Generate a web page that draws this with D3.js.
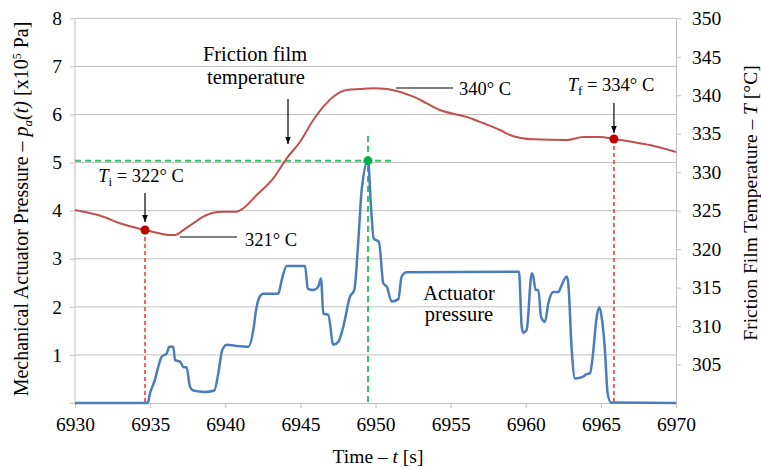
<!DOCTYPE html>
<html><head><meta charset="utf-8">
<script src="https://cdn.jsdelivr.net/npm/d3@7"></script>
<style>body{margin:0;background:#fff}svg{display:block}</style>
</head><body><svg id="c" width="761" height="469"></svg>
<script>
// ---- data ----
const timeTicks = [6930,6935,6940,6945,6950,6955,6960,6965,6970];
const pressureTicks = [1,2,3,4,5,6,7,8];
const tempTicks = [305,310,315,320,325,330,335,340,345,350];

const pressureTime = [6930,6934.84,6934.99,6935.32,6935.54,6935.77,6936.10,6936.28,6936.54,6936.66,6936.99,6937.21,6937.43,6937.65,6937.87,6938.65,6939.27,6939.54,6939.80,6940.10,6940.65,6941.53,6941.87,6942.05,6942.25,6942.53,6943.53,6943.76,6944.09,6945.31,6945.49,6945.86,6946.19,6946.37,6946.53,6946.86,6947.19,6947.52,6947.86,6948.30,6948.59,6948.86,6949.08,6949.50,6949.70,6949.88,6950.23,6950.52,6950.75,6951.08,6951.52,6951.74,6952.08,6959.55,6959.73,6959.84,6960.06,6960.40,6960.50,6960.66,6960.84,6961.02,6961.28,6961.50,6961.83,6962.17,6962.39,6962.73,6962.83,6963.06,6963.28,6963.83,6964.06,6964.28,6964.43,6964.72,6964.90,6965.05,6965.27,6965.45,6965.67,6970];
const pressureValue = [0,0,0.20,0.48,0.75,0.96,1.03,1.17,1.17,0.89,0.86,0.75,0.74,0.34,0.26,0.23,0.26,0.62,1.10,1.21,1.19,1.17,1.52,1.93,2.18,2.27,2.27,2.56,2.85,2.85,2.38,2.35,2.42,2.59,1.86,1.83,1.21,1.27,1.59,2.21,2.35,3.39,4.43,5.04,4.08,3.42,3.35,2.49,2.42,2.11,2.16,2.63,2.72,2.73,1.59,1.46,1.52,2.70,2.63,2.35,2.35,1.79,1.69,2.07,2.31,2.31,2.45,2.63,2.49,1.10,0.51,0.55,0.60,0.62,0.89,1.79,1.99,1.79,1.10,0.20,0.01,0];

const tempTime = [6930.00,6931.88,6932.99,6934.66,6935.44,6936.32,6936.66,6937.21,6937.87,6938.54,6939.20,6939.87,6940.76,6941.20,6942.09,6943.20,6944.09,6944.98,6945.86,6946.53,6947.19,6948.08,6948.97,6949.85,6950.75,6951.41,6952.52,6953.41,6954.29,6956.09,6957.15,6958.29,6958.95,6960.48,6962.75,6963.81,6964.94,6965.87,6967.14,6968.27,6970.00];
const tempValue = [325.08,324.21,323.36,322.48,322.13,321.84,321.84,322.48,323.36,324.21,324.73,324.86,324.86,325.31,327.03,329.20,331.80,333.96,336.78,338.51,339.81,340.68,340.81,340.90,340.81,340.55,339.81,338.95,338.08,337.17,336.39,335.48,334.83,334.27,334.18,334.57,334.57,334.31,333.92,333.53,332.62];

const tInitial = {t:6934.66, T:322.48};
const tFinal = {t:6965.87, T:334.31};
const pPeak = {t:6949.50, p:5.04};

// ---- layout ----
const FONT = "'Liberation Serif','Times New Roman',Times,'DejaVu Serif',serif";
const svg = d3.select("#c");
const L=75, R=676, T=18.3, B=403;
const x = d3.scaleLinear().domain([6930,6970]).range([L,R]);
const yP = d3.scaleLinear().domain([0,8]).range([B,T]);
const yT = d3.scaleLinear().domain([300,350]).range([B,T]);
const grid="#c0c0c0", fs=19.5;

// gridlines
svg.append("g").selectAll("line").data(pressureTicks).join("line")
  .attr("x1",L).attr("x2",R).attr("y1",d=>yP(d)).attr("y2",d=>yP(d))
  .attr("stroke",grid).attr("stroke-width",1);

// axes
const axL = svg.append("g").attr("transform",`translate(${L},0)`)
  .call(d3.axisLeft(yP).tickValues([0,...pressureTicks]).tickSize(5).tickPadding(8).tickFormat(d=>d===0?"":d));
const axR = svg.append("g").attr("transform",`translate(${R},0)`)
  .call(d3.axisRight(yT).tickValues(tempTicks).tickSize(5).tickPadding(11));
const axB = svg.append("g").attr("transform",`translate(0,${B})`)
  .call(d3.axisBottom(x).tickValues(timeTicks).tickSize(5).tickPadding(9).tickFormat(d3.format("d")));
[axL,axR,axB].forEach(a=>{
  a.attr("font-family",null).attr("font-size",null);
  a.selectAll("path,line").attr("stroke",grid).attr("stroke-width",1);
  a.selectAll("text").attr("fill","#000");
});
axR.select(".domain").attr("d",`M0.5,${T}V${B}`);
axL.select(".domain").attr("d",`M0,${T}V${B}`);

// axis titles
const xt = svg.append("text").attr("x",378).attr("y",463).attr("text-anchor","middle");
xt.append("tspan").text("Time – ");
xt.append("tspan").attr("font-style","italic").text("t");
xt.append("tspan").text(" [s]");

const lt = svg.append("text").attr("transform","translate(28,209) rotate(-90)").attr("text-anchor","middle").attr("class","big");
lt.append("tspan").text("Mechanical Actuator Pressure – ");
lt.append("tspan").attr("font-style","italic").text("p");
lt.append("tspan").attr("font-style","italic").attr("font-size",13).attr("dy",4).text("a");
lt.append("tspan").attr("font-style","italic").attr("dy",-4).text("(t)");
lt.append("tspan").text(" [x10");
lt.append("tspan").attr("font-size",12).attr("dy",-7).text("5");
lt.append("tspan").attr("dy",7).text(" Pa]");

const rt = svg.append("text").attr("transform","translate(757,203) rotate(-90)").attr("text-anchor","middle");
rt.append("tspan").text("Friction Film Temperature – ");
rt.append("tspan").attr("font-style","italic").text("T");
rt.append("tspan").text(" [°C]");

// reference dashed lines
const red="#ff2a2a", green="#2ec866";
svg.append("line").attr("x1",x(tInitial.t)).attr("x2",x(tInitial.t)).attr("y1",yT(tInitial.T)).attr("y2",B)
  .attr("stroke",red).attr("stroke-width",1.5).attr("stroke-dasharray","4,3");
svg.append("line").attr("x1",x(tFinal.t)).attr("x2",x(tFinal.t)).attr("y1",yT(tFinal.T)).attr("y2",B)
  .attr("stroke",red).attr("stroke-width",1.5).attr("stroke-dasharray","4,3");
svg.append("line").attr("x1",L).attr("x2",x(6951.1)).attr("y1",yP(pPeak.p)).attr("y2",yP(pPeak.p))
  .attr("stroke",green).attr("stroke-width",2).attr("stroke-dasharray","6,4");
svg.append("line").attr("x1",x(pPeak.t)).attr("x2",x(pPeak.t)).attr("y1",yP(5.55)).attr("y2",B)
  .attr("stroke",green).attr("stroke-width",2).attr("stroke-dasharray","6,4");

// series
svg.append("path").datum(pressureTime.map((t,i)=>[t,pressureValue[i]]))
  .attr("d",d3.line().x(d=>x(d[0])).y(d=>yP(d[1])).curve(d3.curveMonotoneX))
  .attr("fill","none").attr("stroke","#4a7ebb").attr("stroke-width",2.5);
svg.append("path").datum(tempTime.map((t,i)=>[t,tempValue[i]]))
  .attr("d",d3.line().x(d=>x(d[0])).y(d=>yT(d[1])).curve(d3.curveMonotoneX))
  .attr("fill","none").attr("stroke","#c0504d").attr("stroke-width",2);

// markers
svg.append("circle").attr("cx",x(tInitial.t)).attr("cy",yT(tInitial.T)).attr("r",4.5).attr("fill","#c00000");
svg.append("circle").attr("cx",x(tFinal.t)).attr("cy",yT(tFinal.T)).attr("r",4.5).attr("fill","#c00000");
svg.append("circle").attr("cx",x(pPeak.t)).attr("cy",yP(pPeak.p)).attr("r",4.5).attr("fill","#00b050");

// annotations
const defs = svg.append("defs");
defs.append("marker").attr("id","ah").attr("viewBox","0 0 10 10").attr("refX",10).attr("refY",5)
  .attr("markerWidth",7).attr("markerHeight",7).attr("markerUnits","userSpaceOnUse").attr("orient","auto")
  .append("path").attr("d","M0,1L10,5L0,9Z").attr("fill","#000");
function arrow(x0,y0,y1){svg.append("line").attr("x1",x0).attr("x2",x0).attr("y1",y0).attr("y2",y1)
  .attr("stroke","#000").attr("stroke-width",1.2).attr("marker-end","url(#ah)");}
function hline(x0,x1,y0){svg.append("line").attr("x1",x0).attr("x2",x1).attr("y1",y0).attr("y2",y0).attr("stroke","#000").attr("stroke-width",1.2);}
const afs=18.5, bfs=20.5;
// Ti
const ti = svg.append("text").attr("x",141).attr("y",182).attr("text-anchor","middle").attr("class","ann");
ti.append("tspan").attr("font-style","italic").text("T");
ti.append("tspan").attr("font-size",13).attr("dy",4).text("i");
ti.append("tspan").attr("dy",-4).text(" = 322° C");
arrow(x(tInitial.t),193,222);
// Tf
const tf = svg.append("text").attr("x",611).attr("y",91).attr("text-anchor","middle").attr("class","ann");
tf.append("tspan").attr("font-style","italic").text("T");
tf.append("tspan").attr("font-size",13).attr("dy",4).text("f");
tf.append("tspan").attr("dy",-4).text(" = 334° C");
arrow(x(tFinal.t),103,133);
// 321
hline(180,237,237);
svg.append("text").attr("x",245).attr("y",246).attr("class","ann").text("321° C");
// 340
hline(396,453,88);
svg.append("text").attr("x",459).attr("y",95).attr("class","ann").text("340° C");
// friction film temperature
svg.append("text").attr("x",255).attr("y",61).attr("text-anchor","middle").attr("class","ann2").text("Friction film");
svg.append("text").attr("x",256).attr("y",84).attr("text-anchor","middle").attr("class","ann2").text("temperature");
arrow(288,99,144);
// actuator pressure
svg.append("text").attr("x",459).attr("y",300).attr("text-anchor","middle").attr("class","ann2").text("Actuator");
svg.append("text").attr("x",459).attr("y",321).attr("text-anchor","middle").attr("class","ann2").text("pressure");

// fonts
svg.selectAll("text").style("font-family",FONT).style("fill","#000")
  .style("font-size",function(){const s=d3.select(this);
    return (s.classed("ann")?afs:s.classed("ann2")?bfs:s.classed("big")?20:fs)+"px";});
</script></body></html>
